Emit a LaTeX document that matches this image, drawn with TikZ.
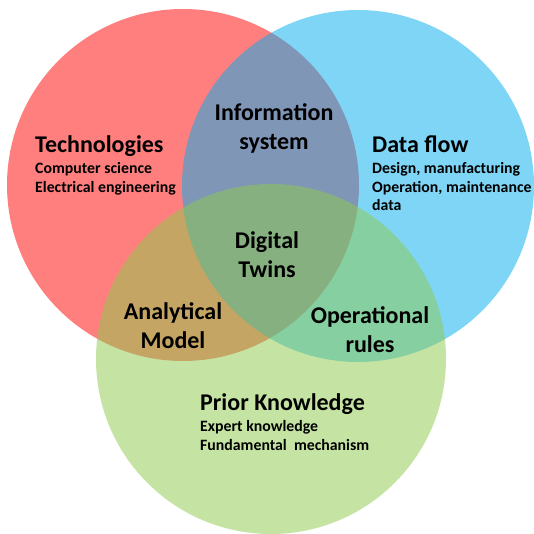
\documentclass[tikz,border=0pt]{standalone}
\usepackage{fontspec}
\setmainfont{Carlito}
\usepackage{tikz}

\definecolor{techred}{RGB}{255,0,1}
\definecolor{flowblue}{RGB}{0,173,239}
\definecolor{priorgreen}{RGB}{141,203,75}

\tikzset{
  venn/.style={fill opacity=0.5},
  head/.style={font=\bfseries\fontsize{24}{28}\selectfont, inner sep=0pt},
  item/.style={font=\bfseries\fontsize{15.8}{18}\selectfont, inner sep=0pt},
}

\begin{document}
\begin{tikzpicture}[x=1pt, y=-1pt]
    \fill[white] (0,0) rectangle (533,534);
    \useasboundingbox (0,0) rectangle (533,534);
    % the three sets
    \fill[techred, venn] (183,185) circle (176);
    \fill[flowblue, venn] (358,186) circle (176);
    \fill[priorgreen, venn] (271,359) circle (175);
    % technologies
    \node[head, anchor=base west] (tech) at (35,153) {Technologies};
    \node[item, anchor=base west] (tech1) at (35,174) {Computer science};
    \node[item, anchor=base west] (tech2) at (35,193) {Electrical engineering};
    % data flow
    \node[head, anchor=base west] (flow) at (372,153) {Data flow};
    \node[item, anchor=base west] (flow1) at (372,174) {Design, manufacturing};
    \node[item, anchor=base west] (flow2) at (372,193) {Operation, maintenance};
    \node[item, anchor=base west] (flow3) at (372,211) {data};
    % prior knowledge
    \node[head, anchor=base west] (prior) at (200,410) {Prior Knowledge};
    \node[item, anchor=base west] (prior1) at (200,431) {Expert knowledge};
    \node[item, anchor=base west] (prior2) at (200,450) {Fundamental\ \ mechanism};
    % overlaps
    \node[head, anchor=base] (info1) at (274,121) {Information};
    \node[head, anchor=base] (info2) at (274,150) {system};
    \node[head, anchor=base] (dt1) at (267,248) {Digital};
    \node[head, anchor=base] (dt2) at (267,277) {Twins};
    \node[head, anchor=base] (model1) at (173,319) {Analytical};
    \node[head, anchor=base] (model2) at (173,348) {Model};
    \node[head, anchor=base] (rules1) at (370,323) {Operational};
    \node[head, anchor=base] (rules2) at (370,352) {rules};
\end{tikzpicture}
\end{document}
